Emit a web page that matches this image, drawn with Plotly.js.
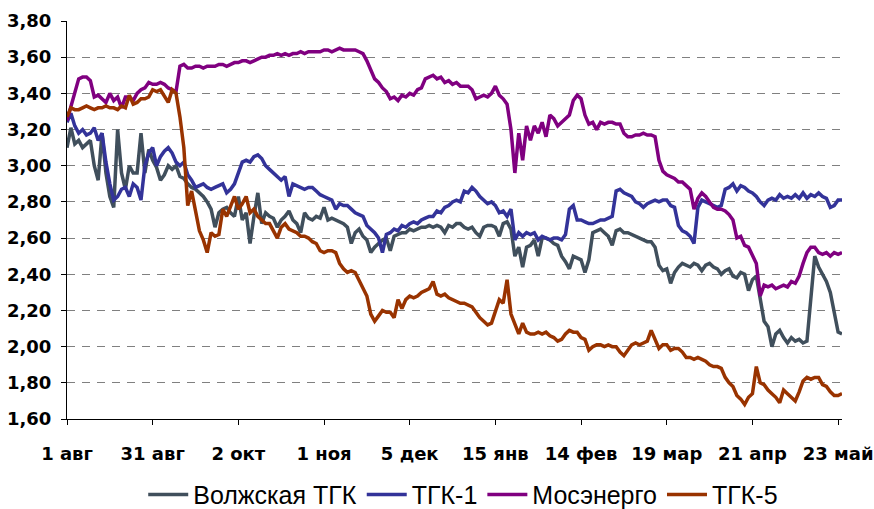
<!DOCTYPE html>
<html>
<head>
<meta charset="utf-8">
<script src="https://cdn.plot.ly/plotly-3.0.1.min.js"></script>
<style>html,body{margin:0;padding:0;background:#fff;}#chart{width:874px;height:509px;}</style>
</head>
<body>
<div id="chart"></div>
<script>
// Trading-day index ticks and labels
const tickPos = [0, 22, 44, 66, 88, 110, 132, 154, 176, 198];
const tickLabels = ["1 авг", "31 авг", "2 окт", "1 ноя", "5 дек", "15 янв", "14 фев", "19 мар", "21 апр", "23 май"];
const yTicks = [1.6, 1.8, 2.0, 2.2, 2.4, 2.6, 2.8, 3.0, 3.2, 3.4, 3.6, 3.8];
const yTickLabels = ["1,60", "1,80", "2,00", "2,20", "2,40", "2,60", "2,80", "3,00", "3,20", "3,40", "3,60", "3,80"];

const seriesNames = ["Волжская ТГК", "ТГК-1", "Мосэнерго", "ТГК-5"];

const volzh = [
3.10,3.21,3.12,3.14,3.10,3.12,3.14,3.00,2.92,3.18,
2.96,2.83,2.77,3.20,2.96,2.87,3.00,2.96,2.96,3.18,
2.96,3.09,3.03,2.99,2.92,2.95,3.00,2.98,3.00,2.94,
2.93,2.90,2.88,2.87,2.85,2.83,2.80,2.76,2.66,2.74,
2.76,2.77,2.74,2.72,2.83,2.70,2.74,2.57,2.72,2.85,
2.68,2.74,2.72,2.71,2.66,2.70,2.72,2.75,2.70,2.68,
2.63,2.74,2.71,2.70,2.72,2.71,2.77,2.70,2.71,2.70,
2.69,2.68,2.66,2.57,2.63,2.65,2.61,2.59,2.52,2.55,
2.57,2.59,2.60,2.53,2.61,2.62,2.63,2.63,2.65,2.64,
2.65,2.66,2.66,2.67,2.66,2.67,2.66,2.63,2.67,2.66,
2.68,2.68,2.66,2.65,2.66,2.63,2.61,2.66,2.67,2.67,
2.66,2.61,2.68,2.69,2.65,2.50,2.55,2.44,2.55,2.56,
2.59,2.50,2.60,2.60,2.59,2.57,2.56,2.50,2.47,2.43,
2.50,2.49,2.48,2.41,2.48,2.63,2.64,2.65,2.63,2.61,
2.56,2.64,2.65,2.63,2.63,2.62,2.61,2.60,2.59,2.58,
2.58,2.55,2.45,2.42,2.43,2.35,2.41,2.44,2.46,2.45,
2.44,2.46,2.45,2.42,2.45,2.46,2.44,2.43,2.40,2.42,
2.43,2.39,2.38,2.41,2.40,2.31,2.37,2.39,2.27,2.14,
2.11,2.00,2.07,2.09,2.05,2.02,2.05,2.03,2.04,2.02,
2.03,2.25,2.50,2.44,2.40,2.36,2.30,2.18,2.08,2.07];

const tgk1 = [
3.24,3.29,3.22,3.18,3.20,3.17,3.18,3.21,3.14,3.18,
3.02,2.90,2.81,2.83,2.87,2.88,2.83,2.90,2.88,2.81,
3.00,3.07,3.10,3.00,3.05,3.08,3.10,3.07,3.02,3.00,
3.02,2.95,2.92,2.88,2.89,2.90,2.88,2.87,2.88,2.89,
2.90,2.85,2.87,2.90,2.96,3.02,3.03,3.02,3.05,3.06,
3.04,3.00,2.98,2.96,2.94,2.92,2.94,2.83,2.90,2.89,
2.88,2.87,2.88,2.88,2.86,2.84,2.83,2.82,2.81,2.76,
2.79,2.78,2.78,2.76,2.74,2.73,2.72,2.67,2.65,2.63,
2.60,2.52,2.62,2.63,2.65,2.64,2.67,2.66,2.68,2.69,
2.68,2.70,2.71,2.72,2.72,2.75,2.74,2.77,2.78,2.80,
2.81,2.80,2.86,2.85,2.88,2.86,2.83,2.81,2.79,2.80,
2.78,2.74,2.75,2.72,2.76,2.59,2.63,2.61,2.63,2.62,
2.63,2.59,2.61,2.60,2.59,2.60,2.60,2.59,2.62,2.76,
2.78,2.70,2.70,2.69,2.68,2.68,2.69,2.70,2.70,2.71,
2.72,2.86,2.87,2.85,2.84,2.83,2.80,2.79,2.77,2.79,
2.80,2.81,2.80,2.81,2.81,2.78,2.77,2.67,2.64,2.63,
2.61,2.57,2.77,2.81,2.80,2.79,2.78,2.77,2.78,2.87,
2.88,2.90,2.86,2.89,2.88,2.86,2.85,2.83,2.80,2.78,
2.81,2.82,2.81,2.84,2.82,2.83,2.82,2.84,2.82,2.85,
2.82,2.84,2.83,2.85,2.83,2.82,2.77,2.78,2.81,2.81];

const mos = [
3.25,3.33,3.40,3.48,3.49,3.49,3.47,3.38,3.39,3.37,
3.35,3.40,3.36,3.38,3.32,3.38,3.38,3.36,3.40,3.42,
3.43,3.46,3.45,3.45,3.46,3.45,3.43,3.42,3.41,3.55,
3.56,3.54,3.54,3.55,3.55,3.54,3.55,3.55,3.55,3.56,
3.56,3.55,3.56,3.57,3.57,3.58,3.58,3.57,3.58,3.59,
3.60,3.60,3.61,3.61,3.62,3.61,3.62,3.61,3.62,3.62,
3.63,3.62,3.63,3.63,3.63,3.63,3.64,3.64,3.63,3.64,
3.65,3.64,3.64,3.64,3.64,3.63,3.62,3.58,3.53,3.48,
3.46,3.43,3.41,3.37,3.38,3.36,3.39,3.38,3.40,3.39,
3.42,3.43,3.48,3.49,3.50,3.48,3.49,3.46,3.47,3.45,
3.46,3.44,3.44,3.44,3.42,3.37,3.38,3.39,3.38,3.40,
3.44,3.39,3.37,3.34,3.20,2.96,3.18,3.03,3.22,3.14,
3.22,3.18,3.24,3.16,3.28,3.26,3.22,3.24,3.26,3.28,
3.36,3.39,3.37,3.28,3.23,3.24,3.20,3.24,3.23,3.24,
3.24,3.23,3.23,3.18,3.16,3.16,3.17,3.17,3.18,3.17,
3.17,3.16,3.03,2.97,2.95,2.94,2.93,2.91,2.91,2.89,
2.87,2.76,2.82,2.85,2.83,2.80,2.77,2.76,2.76,2.75,
2.73,2.70,2.60,2.61,2.56,2.55,2.50,2.46,2.28,2.34,
2.33,2.34,2.32,2.33,2.34,2.33,2.36,2.35,2.39,2.46,
2.52,2.55,2.55,2.52,2.51,2.52,2.50,2.52,2.51,2.52];

const tgk5 = [
3.27,3.32,3.31,3.31,3.32,3.33,3.32,3.31,3.32,3.32,
3.33,3.32,3.32,3.31,3.33,3.32,3.39,3.34,3.35,3.37,
3.37,3.38,3.42,3.41,3.42,3.38,3.35,3.42,3.40,3.27,
3.10,2.78,2.86,2.75,2.64,2.59,2.52,2.63,2.61,2.62,
2.76,2.72,2.77,2.83,2.76,2.79,2.83,2.74,2.76,2.72,
2.70,2.68,2.68,2.64,2.60,2.66,2.68,2.65,2.64,2.63,
2.61,2.61,2.60,2.58,2.57,2.53,2.52,2.53,2.53,2.52,
2.46,2.43,2.41,2.42,2.41,2.37,2.33,2.28,2.18,2.14,
2.17,2.20,2.19,2.19,2.16,2.26,2.21,2.26,2.28,2.27,
2.28,2.30,2.31,2.32,2.36,2.29,2.28,2.29,2.27,2.26,
2.25,2.24,2.24,2.23,2.22,2.19,2.16,2.14,2.12,2.13,
2.20,2.26,2.24,2.37,2.18,2.13,2.07,2.13,2.08,2.07,
2.07,2.08,2.07,2.08,2.06,2.05,2.03,2.04,2.07,2.09,
2.08,2.08,2.05,2.04,1.98,2.00,2.01,2.01,2.00,2.01,
2.00,2.00,1.97,1.95,1.98,2.01,2.02,2.01,2.02,2.03,
2.09,2.04,1.99,2.01,2.01,1.98,1.99,1.99,1.97,1.94,
1.94,1.93,1.94,1.93,1.92,1.90,1.89,1.89,1.88,1.83,
1.80,1.78,1.73,1.71,1.68,1.72,1.74,1.89,1.80,1.79,
1.76,1.74,1.72,1.69,1.76,1.74,1.72,1.70,1.75,1.81,
1.83,1.82,1.83,1.83,1.79,1.78,1.75,1.73,1.73,1.74];

const colors = ["#404f5c", "#333399", "#800080", "#993300"];
const allSeries = [volzh, tgk1, mos, tgk5];

const traces = allSeries.map((vals, k) => ({
  x: vals.map((_, i) => i),
  y: vals,
  name: seriesNames[k],
  type: "scatter",
  mode: "lines",
  line: {color: colors[k], width: 3.5},
  hoverinfo: "skip"
}));

const tickFont = {family: "DejaVu Sans", size: 18, color: "#000", weight: "bold"};

const layout = {
  width: 874, height: 509,
  margin: {l: 67, r: 32, t: 21, b: 90, pad: 0, autoexpand: false},
  paper_bgcolor: "#fff", plot_bgcolor: "#fff",
  showlegend: true,
  legend: {
    orientation: "h", xref: "container", x: 0.53, xanchor: "center",
    yref: "container", y: 0.028, yanchor: "middle",
    font: {family: "Liberation Sans, Arial, sans-serif", size: 25, color: "#000"},
    itemwidth: 40, traceorder: "normal", bgcolor: "rgba(0,0,0,0)"
  },
  xaxis: {
    range: [0, 199], tickvals: tickPos, ticktext: tickLabels,
    showgrid: false, zeroline: false, showline: true, linecolor: "#000", linewidth: 1,
    ticks: "outside", ticklen: 5, tickcolor: "#000", tickfont: tickFont,
    ticklabelstandoff: 13, fixedrange: true, automargin: false
  },
  yaxis: {
    range: [1.6, 3.8], tickvals: yTicks, ticktext: yTickLabels,
    showgrid: true, gridcolor: "#808080", gridwidth: 1, griddash: "8px,7px",
    zeroline: false, showline: true, linecolor: "#000", linewidth: 1,
    ticks: "outside", ticklen: 5, tickcolor: "#000", tickfont: tickFont,
    ticklabelstandoff: 6, fixedrange: true, automargin: false
  }
};

Plotly.newPlot("chart", traces, layout, {displayModeBar: false, staticPlot: true});
</script>
</body>
</html>
